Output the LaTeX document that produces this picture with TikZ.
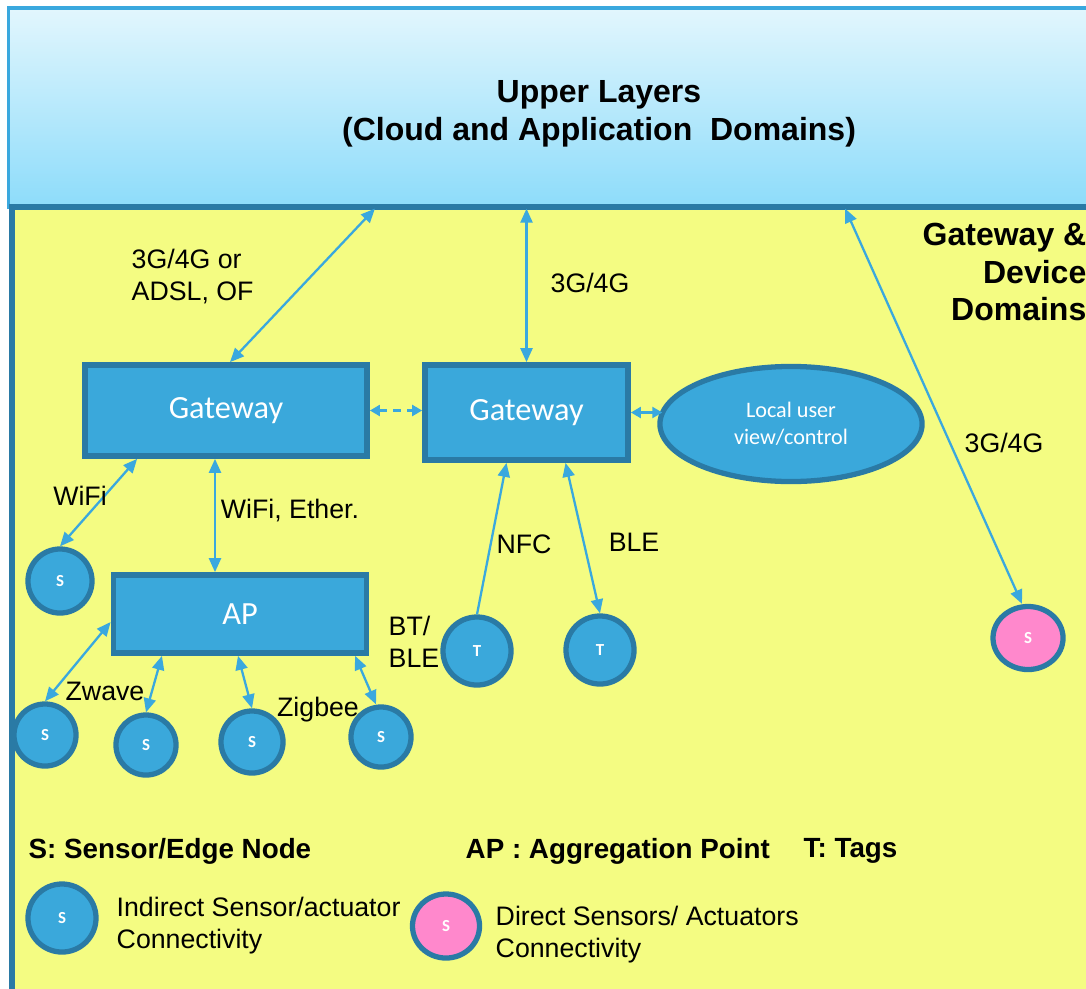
\documentclass[tikz,border=0pt]{standalone}
\usepackage{fontspec}
\setmainfont{Liberation Sans}
\newfontfamily\calib{Carlito}
\usetikzlibrary{arrows.meta,shapes.geometric}

\definecolor{yellowbg}{HTML}{F4FC82}
\definecolor{nodeblue}{HTML}{3AA8DB}
\definecolor{edgeblue}{HTML}{2A7AA5}
\definecolor{linkblue}{HTML}{3AA8DE}
\definecolor{skytop}{HTML}{E2F6FD}
\definecolor{skybot}{HTML}{8DDCFA}
\definecolor{pinkfill}{HTML}{FF88CC}

\tikzset{
  gwbox/.style={rectangle, fill=nodeblue, draw=edgeblue, line width=1.6pt,
    text=white, font=\calib\fontsize{9.2}{10}\selectfont},
  sensor/.style={circle, fill=nodeblue, draw=edgeblue, line width=1.5pt,
    text=white, font=\calib\bfseries\fontsize{4.8}{5}\selectfont, inner sep=0pt,
    minimum size=0.62cm},
  direct/.style={sensor, ellipse, fill=pinkfill},
  link/.style={draw=linkblue, line width=0.65pt,
    {Triangle[length=0.14cm,width=0.12cm]}-{Triangle[length=0.14cm,width=0.12cm]}},
  shortlink/.style={draw=linkblue, line width=0.65pt,
    {Triangle[length=0.1cm,width=0.11cm]}-{Triangle[length=0.1cm,width=0.11cm]}},
  lbl/.style={font=\fontsize{7.6}{9.1}\selectfont, inner sep=0pt},
  heading/.style={font=\bfseries\fontsize{9.1}{10.7}\selectfont, inner sep=0pt}
}

\begin{document}
\begin{tikzpicture}[x=0.01cm,y=-0.01cm]
  \useasboundingbox (0,0) rectangle (1086,988);
  \clip (0,0) rectangle (1086,988);
  \fill[white] (0,0) rectangle (1086,988);

  % domains
  \node (upper) [rectangle, top color=skytop, bottom color=skybot, draw=linkblue,
    line width=0.9pt, minimum width=10.92cm, minimum height=1.99cm] at (555,107.5) {};
  \draw[fill=yellowbg, draw=edgeblue, line width=1.5pt] (12,207) rectangle (1100,1000);
  \node (uppertxt) [heading, align=center] at (599,114)
    {Upper Layers\\(Cloud and Application~~Domains)};
  \node (gdd) [heading, align=right, anchor=east] at (1087,272)
    {Gateway \&\\Device\\Domains};

  % gateways
  \node (g1) [gwbox, minimum width=2.82cm, minimum height=0.91cm] at (226,410.5) {Gateway};
  \node (g2) [gwbox, minimum width=2.03cm, minimum height=0.95cm] at (526.5,412.5) {Gateway};
  \node (local) [ellipse, fill=nodeblue, draw=edgeblue, line width=1.5pt, text=white,
    font=\calib\fontsize{6.3}{7.7}\selectfont, align=center, inner sep=0pt,
    minimum width=2.62cm, minimum height=1.15cm] at (791,424) {Local user\\view/control};
  \node (ap) [gwbox, minimum width=2.53cm, minimum height=0.78cm] at (240,614) {AP};

  % sensors and tags
  \node (s0) [sensor, minimum size=0.64cm] at (60,581) {S};
  \node (s1) [sensor] at (45,735) {S};
  \node (s2) [sensor, minimum size=0.6cm] at (146,745) {S};
  \node (s3) [sensor] at (252,742) {S};
  \node (s4) [sensor, minimum size=0.6cm] at (381,737) {S};
  \node (t1) [sensor, minimum size=0.68cm] at (477,651) {T};
  \node (t2) [sensor, minimum size=0.68cm] at (600,650) {T};
  \node (pk) [direct, minimum width=0.7cm, minimum height=0.63cm] at (1028,638) {S};

  % links
  \draw[link] ([xshift=0.04cm]g1.north) -- ([xshift=-1.8cm]upper.south);
  \draw[link] (g2.north) -- (g2.north |- upper.south);
  \draw[link] ([xshift=-0.06cm]pk.north) -- ([xshift=2.9cm]upper.south);
  \draw[shortlink, dashed, dash pattern=on 0.08cm off 0.06cm] (g1.east) -- (g1.east -| g2.west);
  \draw[shortlink] (g2.east) -- ([xshift=0.05cm]g2.east -| local.west);
  \draw[link] ([xshift=0.55cm]g1.south west) -- (s0.north);
  \draw[link] ([xshift=-0.11cm]g1.south) -- ([xshift=-0.11cm]g1.south |- ap.north);
  \draw[draw=linkblue, line width=0.65pt, -{Triangle[length=0.14cm,width=0.12cm]}]
    (t1.north) -- ([xshift=-0.2cm]g2.south);
  \draw[link] ([xshift=0.39cm]g2.south) -- (t2.north);
  \draw[link] ([yshift=-0.08cm]ap.west) -- (s1.north);
  \draw[link] ([xshift=-0.78cm]ap.south) -- (s2.north);
  \draw[link] ([xshift=-0.02cm]ap.south) -- (s3.north);
  \draw[link] ([xshift=1.15cm]ap.south) -- ([xshift=-0.05cm]s4.north);

  % link labels
  \node (l1) [lbl, align=left, anchor=west] at (131,277) {3G/4G or\\ADSL, OF};
  \node (l2) [lbl] at (590,283) {3G/4G};
  \node (l3) [lbl] at (1004,443) {3G/4G};
  \node (l4) [lbl] at (80,496) {WiFi};
  \node (l5) [lbl] at (290,511) {WiFi, Ether.};
  \node (l6) [lbl] at (524,544) {NFC};
  \node (l7) [lbl] at (634,542) {BLE};
  \node (l8) [lbl, align=left, anchor=west] at (388,642) {BT/\\BLE};
  \node (l9) [lbl] at (105,691) {Zwave};
  \node (l10) [lbl] at (318,710) {Zigbee};

  % legend
  \node (k1) [lbl, font=\bfseries\fontsize{7.9}{9}\selectfont, anchor=west] at (28,851) {S: Sensor/Edge Node};
  \node (k2) [lbl, font=\bfseries\fontsize{7.9}{9}\selectfont, anchor=west] at (465,851) {AP : Aggregation Point};
  \node (k3) [lbl, font=\bfseries\fontsize{7.9}{9}\selectfont, anchor=west] at (803,851) {T: Tags};
  \node (ks) [sensor, minimum size=0.68cm] at (62,918) {S};
  \node (kst) [lbl, align=left, anchor=west] at (116,926) {Indirect Sensor/actuator\\Connectivity};
  \node (kp) [direct, minimum width=0.67cm, minimum height=0.64cm] at (446,926) {S};
  \node (kpt) [lbl, align=left, anchor=west] at (495,935) {Direct Sensors/ Actuators\\Connectivity};
\end{tikzpicture}
\end{document}
